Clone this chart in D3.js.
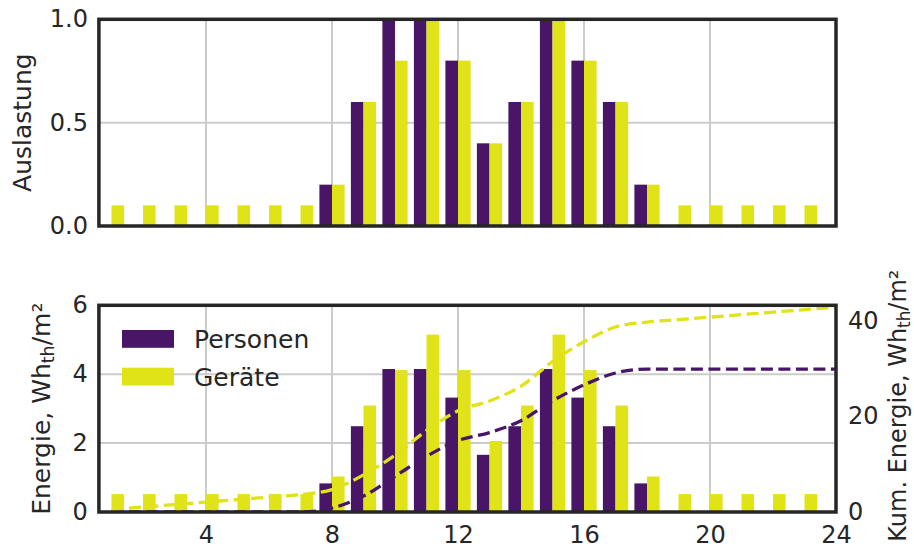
<!DOCTYPE html>
<html>
<head>
<meta charset="utf-8">
<script src="https://cdn.jsdelivr.net/npm/d3@7"></script>
<style>
  html, body { margin: 0; padding: 0; background: #ffffff; }
  svg { display: block; font-family: "DejaVu Sans", sans-serif; }
  .tick text { fill: #262626; }
</style>
</head>
<body>
<svg id="chart" width="914" height="553"></svg>
<script>
// Hourly profile (hour ending at 1 … 24)
const hours = [1, 2, 3, 4, 5, 6, 7, 8, 9, 10, 11, 12, 13, 14, 15, 16, 17, 18, 19, 20, 21, 22, 23, 24];

// Auslastung (occupancy fraction)
const auslastungPersonen = [0, 0, 0, 0, 0, 0, 0, 0.2, 0.6, 1.0, 1.0, 0.8, 0.4, 0.6, 1.0, 0.8, 0.6, 0.2, 0, 0, 0, 0, 0, 0];
const auslastungGeraete  = [0.1, 0.1, 0.1, 0.1, 0.1, 0.1, 0.1, 0.2, 0.6, 0.8, 1.0, 0.8, 0.4, 0.6, 1.0, 0.8, 0.6, 0.2, 0.1, 0.1, 0.1, 0.1, 0.1, 0.1];

// Internal gains per hour, Wh_th/m²
const energiePersonen = [0, 0, 0, 0, 0, 0, 0, 0.83, 2.49, 4.15, 4.15, 3.32, 1.66, 2.49, 4.15, 3.32, 2.49, 0.83, 0, 0, 0, 0, 0, 0];
const energieGeraete  = [0.52, 0.52, 0.52, 0.52, 0.52, 0.52, 0.52, 1.03, 3.09, 4.12, 5.15, 4.12, 2.06, 3.09, 5.15, 4.12, 3.09, 1.03, 0.52, 0.52, 0.52, 0.52, 0.52, 0.52];

// Tick labels
const xTicks = [4, 8, 12, 16, 20, 24];
const auslastungTicks = [0.0, 0.5, 1.0];
const energieTicks = [0, 2, 4, 6];
const kumTicks = [0, 20, 40];

const seriesNames = ["Personen", "Geräte"];
const colors = { Personen: "#481567", "Geräte": "#dfe318" };

const svg = d3.select("#chart");
const textColor = "#262626";
const gridColor = "#cccccc";
const tickFont = 24;
const labelFont = 25;

const left = 98.9, right = 836;
const topPanel = { y0: 19.3, y1: 226 };
const botPanel = { y0: 305.3, y1: 512 };
const barW = 0.4;

const x = d3.scaleLinear().domain([0.6, 24]).range([left, right]);
const yTop = d3.scaleLinear().domain([0, 1]).range([topPanel.y1, topPanel.y0]);
const yBot = d3.scaleLinear().domain([0, 6]).range([botPanel.y1, botPanel.y0]);
const yKum = d3.scaleLinear().domain([0, 43.2]).range([botPanel.y1, botPanel.y0]);

const defs = svg.append("defs");
function clip(id, p) {
  defs.append("clipPath").attr("id", id)
    .append("rect").attr("x", left).attr("y", p.y0)
    .attr("width", right - left).attr("height", p.y1 - p.y0);
}
clip("clipTop", topPanel);
clip("clipBot", botPanel);

function grid(g, yScale, yTicks, p) {
  const gg = g.append("g").attr("stroke", gridColor).attr("stroke-width", 2);
  gg.selectAll("line.v").data(xTicks).join("line")
    .attr("x1", d => x(d)).attr("x2", d => x(d))
    .attr("y1", p.y0).attr("y2", p.y1);
  gg.selectAll("line.h").data(yTicks).join("line")
    .attr("x1", left).attr("x2", right)
    .attr("y1", d => yScale(d)).attr("y2", d => yScale(d));
}

function bars(g, yScale, pers, ger, clipId) {
  const bg = g.append("g").attr("clip-path", `url(#${clipId})`);
  bg.selectAll("rect.p").data(hours).join("rect")
    .attr("x", (d) => x(d - barW)).attr("width", x(barW) - x(0))
    .attr("y", (d, i) => yScale(pers[i]))
    .attr("height", (d, i) => yScale(0) - yScale(pers[i]))
    .attr("fill", colors.Personen);
  bg.selectAll("rect.g").data(hours).join("rect")
    .attr("x", (d) => x(d)).attr("width", x(barW) - x(0))
    .attr("y", (d, i) => yScale(ger[i]))
    .attr("height", (d, i) => yScale(0) - yScale(ger[i]))
    .attr("fill", colors["Geräte"]);
}

function frame(g, p) {
  g.append("rect").attr("x", left).attr("y", p.y0)
    .attr("width", right - left).attr("height", p.y1 - p.y0)
    .attr("fill", "none").attr("stroke", textColor).attr("stroke-width", 3.5);
}

function styleAxis(sel) {
  sel.select(".domain").remove();
  sel.selectAll(".tick line").remove();
  sel.selectAll(".tick text").attr("font-size", tickFont).attr("fill", textColor)
    .attr("font-family", "DejaVu Sans");
}

// ---- Top panel: Auslastung ----
const gTop = svg.append("g");
grid(gTop, yTop, auslastungTicks, topPanel);
bars(gTop, yTop, auslastungPersonen, auslastungGeraete, "clipTop");
frame(gTop, topPanel);
gTop.append("g").attr("transform", `translate(${left},0)`)
  .call(d3.axisLeft(yTop).tickValues(auslastungTicks).tickFormat(d3.format(".1f")).tickSize(0).tickPadding(11))
  .call(styleAxis);

gTop.append("text")
  .attr("transform", `translate(31,${(topPanel.y0 + topPanel.y1) / 2}) rotate(-90)`)
  .attr("text-anchor", "middle").attr("font-size", labelFont).attr("fill", textColor)
  .text("Auslastung");

// ---- Bottom panel: Energie ----
const gBot = svg.append("g");
grid(gBot, yBot, energieTicks, botPanel);
bars(gBot, yBot, energiePersonen, energieGeraete, "clipBot");

// cumulative energy on the secondary axis
const kumPersonen = Array.from(d3.cumsum(energiePersonen));
const kumGeraete = Array.from(d3.cumsum(energieGeraete));
const line = d3.line().x(d => x(d[0])).y(d => yKum(d[1])).curve(d3.curveMonotoneX);
const lg = gBot.append("g").attr("clip-path", "url(#clipBot)").attr("fill", "none")
  .attr("stroke-width", 3.3).attr("stroke-dasharray", "12,5.5");
lg.append("path").attr("d", line(hours.map((h, i) => [h, kumPersonen[i]])))
  .attr("stroke", colors.Personen);
lg.append("path").attr("d", line(hours.map((h, i) => [h, kumGeraete[i]])))
  .attr("stroke", colors["Geräte"]);

frame(gBot, botPanel);

gBot.append("g").attr("transform", `translate(${left},0)`)
  .call(d3.axisLeft(yBot).tickValues(energieTicks).tickFormat(d3.format("d")).tickSize(0).tickPadding(11))
  .call(styleAxis);
gBot.append("g").attr("transform", `translate(${right},0)`)
  .call(d3.axisRight(yKum).tickValues(kumTicks).tickFormat(d3.format("d")).tickSize(0).tickPadding(12))
  .call(styleAxis);
gBot.append("g").attr("transform", `translate(0,${botPanel.y1})`)
  .call(d3.axisBottom(x).tickValues(xTicks).tickFormat(d3.format("d")).tickSize(0).tickPadding(14))
  .call(styleAxis);

function unitLabel(g, tx, ty, prefix, size) {
  const t = g.append("text")
    .attr("transform", `translate(${tx},${ty}) rotate(-90)`)
    .attr("text-anchor", "middle").attr("font-size", size).attr("fill", textColor);
  t.append("tspan").text(prefix + "Wh");
  t.append("tspan").attr("font-size", size * 0.7).attr("dy", 4).text("th");
  t.append("tspan").attr("dy", -4).text("/m²");
}
const midBot = (botPanel.y0 + botPanel.y1) / 2;
unitLabel(gBot, 50, midBot, "Energie, ", labelFont);
// secondary label sits at the right edge; kept fully inside the canvas
unitLabel(gBot, 906, midBot - 3, "Kum. Energie, ", 24);

// legend
const legend = gBot.append("g");
seriesNames.forEach((name, i) => {
  const y0 = 330 + i * 37.7;
  legend.append("rect").attr("x", 122).attr("y", y0).attr("width", 52).attr("height", 17.8)
    .attr("fill", colors[name]);
  legend.append("text").attr("x", 194).attr("y", y0 + 18).attr("font-size", labelFont)
    .attr("fill", textColor).text(name);
});
</script>
</body>
</html>
